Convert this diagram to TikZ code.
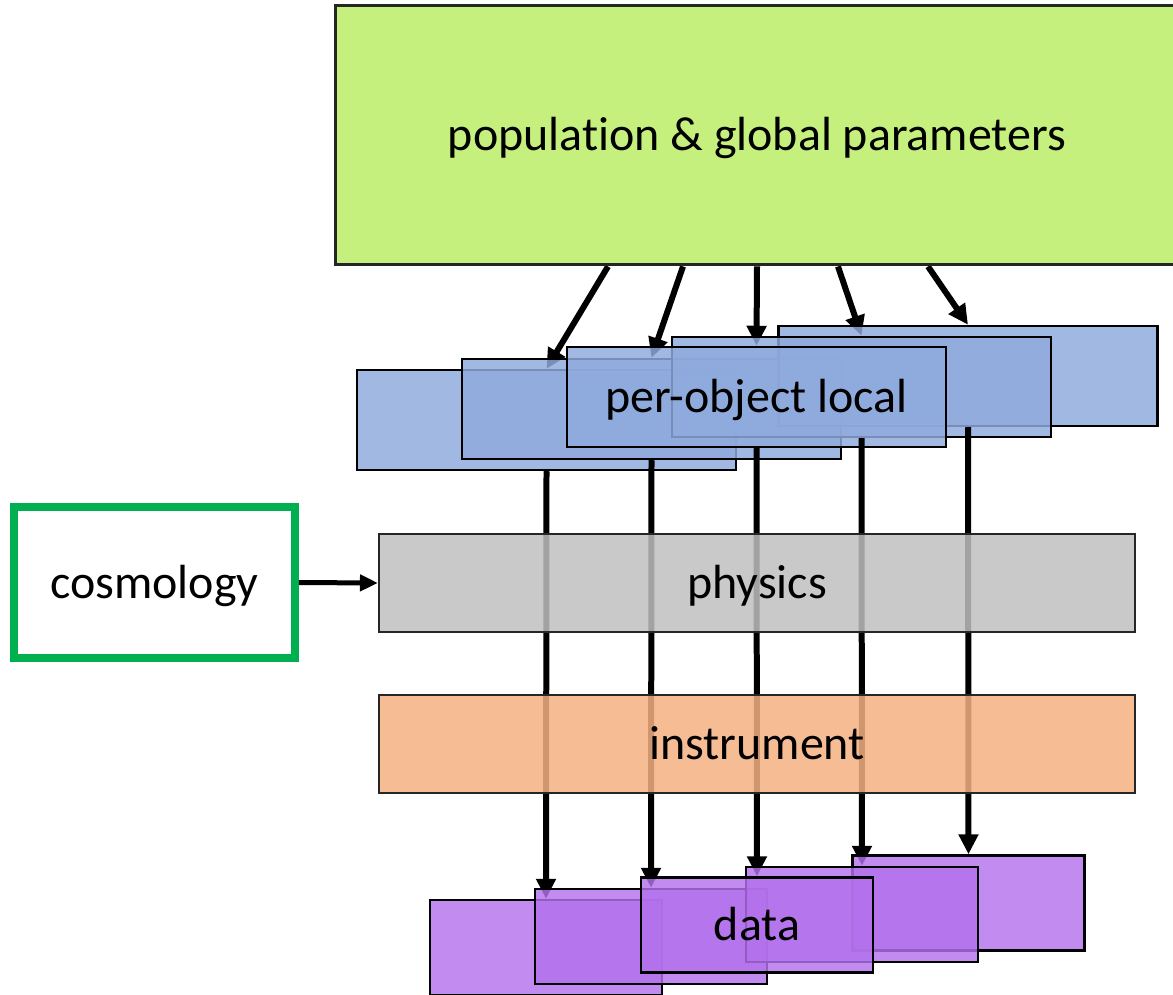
\documentclass[tikz,border=0pt]{standalone}
\usepackage{fontspec}
\setmainfont[Ligatures=NoCommon]{Carlito}
\usetikzlibrary{arrows.meta,calc}
\definecolor{popgreen}{RGB}{197,240,125}
\definecolor{objblue}{RGB}{143,170,220}
\definecolor{physgray}{RGB}{191,191,191}
\definecolor{instorange}{RGB}{244,177,131}
\definecolor{datapurple}{RGB}{179,113,235}
\definecolor{cosgreen}{RGB}{0,176,80}
\pgfdeclarelayer{arr}
\pgfdeclarelayer{blue}
\pgfdeclarelayer{vlines}
\pgfsetlayers{arr,blue,vlines,main}
\tikzset{
  lbl/.style={font=\fontsize{27.3pt}{31pt}\selectfont, text=black, text height=24pt, text depth=6pt},
  popbox/.style={draw=black!85, line width=0.06cm, fill=popgreen, lbl, minimum width=16.88cm, minimum height=5.2cm, inner sep=0pt},
  objbox/.style={draw=black, line width=0.05cm, fill=objblue, fill opacity=0.84, text opacity=1, lbl, minimum width=7.58cm, minimum height=2cm, inner sep=0pt},
  layerbox/.style={draw=black!85, line width=0.045cm, fill opacity=0.85, text opacity=1, lbl, minimum width=15.12cm, minimum height=1.96cm, inner sep=0pt},
  databox/.style={draw=black, line width=0.05cm, fill=datapurple, fill opacity=0.82, text opacity=1, lbl, minimum width=4.64cm, minimum height=1.9cm, inner sep=0pt},
  cosbox/.style={draw=cosgreen, line width=0.16cm, fill=white, lbl, minimum width=5.62cm, minimum height=3.02cm, inner sep=0pt},
  bigarrow/.style={line width=0.12cm, -{Triangle[length=0.4cm,width=0.38cm]}},
  smallarrow/.style={line width=0.1cm, -{Triangle[length=0.36cm,width=0.32cm]}}
}
\begin{document}
\begin{tikzpicture}[x=0.02cm,y=-0.02cm]
\useasboundingbox (0,0) rectangle (1173,994);
\clip (0,0) rectangle (1173,994);
% population box
\node[popbox] (pop) at (757,135) {population \& global parameters};
% per-object boxes
\begin{pgfonlayer}{blue}
\node[objbox] (b1) at (546.5,420) {};
\node[objbox] (b2) at (651.5,409) {};
\node[objbox] (b5) at (968,376) {};
\node[objbox] (b4) at (861.5,387) {};
\node[objbox] (b3) at (756.5,397) {per-object local};
\end{pgfonlayer}
\begin{pgfonlayer}{arr}
\draw[bigarrow] ($(pop.south)+(-149,0)$) -- (b1.north);
\draw[bigarrow] ($(pop.south)+(-74,0)$) -- (b2.north);
\draw[bigarrow] (pop.south) -- (b3.north);
\draw[bigarrow] ($(pop.south)+(81,0)$) -- (b4.north);
\draw[bigarrow] ($(pop.south)+(171,0)$) -- (b5.north);
\end{pgfonlayer}
% physics and instrument
\node[layerbox, fill=physgray] (phys) at (757,583) {physics};
\node[layerbox, fill=instorange] (inst) at (757,744) {instrument};
% data boxes
\node[databox] (d1) at (546,947.5) {};
\node[databox] (d2) at (651,936.5) {};
\node[databox] (d5) at (968.5,903) {};
\node[databox] (d4) at (862,914.5) {};
\node[databox] (d3) at (757,925) {data};
% vertical lines
\begin{pgfonlayer}{vlines}
\draw[bigarrow] (b1.south) -- (d1.north);
\draw[bigarrow] (b2.south) -- (d2.north);
\draw[bigarrow] (b3.south) -- (d3.north);
\draw[bigarrow] (b4.south) -- (d4.north);
\draw[bigarrow] (b5.south) -- (d5.north);
\end{pgfonlayer}
% cosmology
\node[cosbox] (cos) at (154.5,582.5) {cosmology};
\draw[smallarrow] (cos.east) -- (phys.west);
\end{tikzpicture}
\end{document}
